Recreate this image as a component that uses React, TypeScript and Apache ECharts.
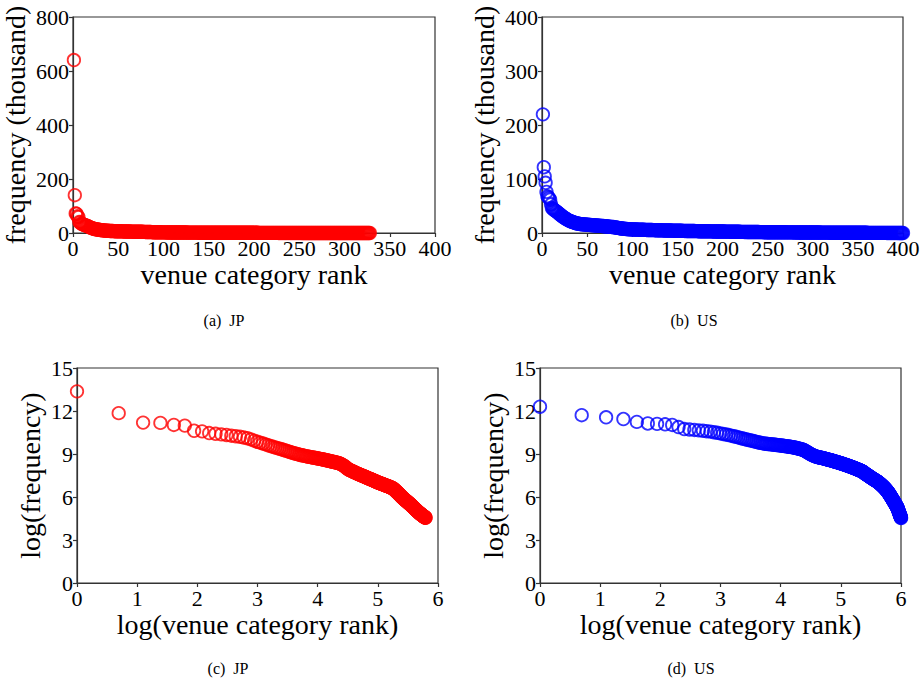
import React, { useEffect, useRef } from "react";
import * as echarts from "echarts";

// ln(frequency) of each venue category, ordered by rank (rank = index + 1)
const jpLogFreq: number[] = [
  13.37, 11.85, 11.19, 11.17, 11.03, 10.98, 10.62, 10.58, 10.46, 10.41,
  10.37, 10.33, 10.28, 10.24, 10.20, 10.15, 10.10, 10.02, 9.93, 9.85,
  9.79, 9.73, 9.67, 9.61, 9.55, 9.50, 9.45, 9.41, 9.37, 9.33,
  9.28, 9.24, 9.20, 9.16, 9.12, 9.08, 9.05, 9.02, 8.99, 8.96,
  8.93, 8.91, 8.89, 8.87, 8.85, 8.83, 8.81, 8.80, 8.78, 8.76,
  8.75, 8.73, 8.72, 8.70, 8.69, 8.67, 8.66, 8.64, 8.63, 8.61,
  8.60, 8.58, 8.57, 8.55, 8.54, 8.52, 8.51, 8.49, 8.48, 8.46,
  8.45, 8.44, 8.42, 8.41, 8.40, 8.38, 8.37, 8.35, 8.33, 8.31,
  8.28, 8.25, 8.22, 8.19, 8.16, 8.12, 8.08, 8.04, 8.00, 7.96,
  7.93, 7.90, 7.88, 7.86, 7.84, 7.82, 7.80, 7.78, 7.76, 7.74,
  7.72, 7.70, 7.68, 7.66, 7.65, 7.63, 7.61, 7.59, 7.58, 7.56,
  7.54, 7.53, 7.51, 7.50, 7.48, 7.47, 7.45, 7.44, 7.42, 7.41,
  7.39, 7.38, 7.36, 7.35, 7.33, 7.32, 7.30, 7.29, 7.28, 7.26,
  7.25, 7.24, 7.22, 7.21, 7.20, 7.18, 7.17, 7.16, 7.14, 7.13,
  7.12, 7.10, 7.09, 7.08, 7.06, 7.05, 7.04, 7.02, 7.01, 7.00,
  6.99, 6.98, 6.97, 6.96, 6.95, 6.94, 6.93, 6.92, 6.91, 6.90,
  6.89, 6.88, 6.87, 6.86, 6.85, 6.84, 6.83, 6.82, 6.81, 6.80,
  6.79, 6.78, 6.77, 6.76, 6.76, 6.75, 6.74, 6.73, 6.72, 6.71,
  6.70, 6.69, 6.68, 6.67, 6.66, 6.65, 6.64, 6.63, 6.62, 6.61,
  6.60, 6.58, 6.56, 6.54, 6.52, 6.50, 6.48, 6.46, 6.44, 6.42,
  6.40, 6.38, 6.36, 6.34, 6.32, 6.30, 6.28, 6.26, 6.24, 6.22,
  6.20, 6.18, 6.16, 6.14, 6.12, 6.10, 6.08, 6.06, 6.04, 6.02,
  6.00, 5.98, 5.96, 5.94, 5.93, 5.91, 5.89, 5.88, 5.86, 5.85,
  5.83, 5.82, 5.80, 5.79, 5.77, 5.76, 5.74, 5.73, 5.71, 5.70,
  5.68, 5.67, 5.65, 5.64, 5.62, 5.61, 5.59, 5.58, 5.56, 5.55,
  5.53, 5.52, 5.50, 5.49, 5.47, 5.46, 5.44, 5.43, 5.41, 5.40,
  5.38, 5.37, 5.35, 5.34, 5.32, 5.31, 5.29, 5.28, 5.26, 5.25,
  5.23, 5.22, 5.20, 5.19, 5.17, 5.16, 5.14, 5.13, 5.11, 5.10,
  5.08, 5.07, 5.06, 5.04, 5.03, 5.02, 5.00, 4.99, 4.98, 4.96,
  4.95, 4.94, 4.92, 4.91, 4.90, 4.89, 4.87, 4.86, 4.85, 4.84,
  4.83, 4.81, 4.80, 4.79, 4.78, 4.77, 4.76, 4.75, 4.74, 4.73,
  4.72, 4.71, 4.70, 4.69, 4.68, 4.67, 4.66, 4.65, 4.64, 4.63,
  4.62, 4.61, 4.60, 4.59, 4.58, 4.57, 4.56, 4.55,
];

const usLogFreq: number[] = [
  12.30, 11.71, 11.56, 11.44, 11.24, 11.13, 11.10, 11.07, 11.03, 10.88,
  10.74, 10.71, 10.68, 10.65, 10.62, 10.59, 10.56, 10.52, 10.48, 10.44,
  10.40, 10.36, 10.32, 10.28, 10.24, 10.20, 10.16, 10.12, 10.08, 10.04,
  10.01, 9.98, 9.95, 9.92, 9.89, 9.86, 9.83, 9.80, 9.78, 9.76,
  9.74, 9.72, 9.71, 9.70, 9.69, 9.68, 9.67, 9.66, 9.65, 9.64,
  9.63, 9.62, 9.61, 9.60, 9.59, 9.58, 9.57, 9.56, 9.55, 9.54,
  9.53, 9.52, 9.51, 9.50, 9.49, 9.48, 9.47, 9.46, 9.44, 9.43,
  9.42, 9.40, 9.39, 9.37, 9.36, 9.34, 9.33, 9.31, 9.30, 9.28,
  9.25, 9.22, 9.19, 9.16, 9.13, 9.10, 9.07, 9.04, 9.01, 8.98,
  8.96, 8.94, 8.92, 8.90, 8.88, 8.86, 8.85, 8.83, 8.81, 8.80,
  8.79, 8.78, 8.77, 8.76, 8.75, 8.74, 8.74, 8.73, 8.72, 8.71,
  8.70, 8.69, 8.68, 8.67, 8.66, 8.65, 8.64, 8.63, 8.62, 8.61,
  8.60, 8.59, 8.58, 8.58, 8.57, 8.56, 8.55, 8.54, 8.53, 8.52,
  8.51, 8.50, 8.49, 8.48, 8.47, 8.46, 8.45, 8.44, 8.44, 8.43,
  8.42, 8.41, 8.40, 8.39, 8.38, 8.37, 8.36, 8.35, 8.35, 8.34,
  8.33, 8.32, 8.31, 8.30, 8.29, 8.28, 8.27, 8.26, 8.26, 8.25,
  8.24, 8.23, 8.22, 8.21, 8.20, 8.19, 8.18, 8.18, 8.17, 8.16,
  8.15, 8.14, 8.13, 8.12, 8.11, 8.10, 8.10, 8.09, 8.08, 8.07,
  8.06, 8.05, 8.04, 8.03, 8.02, 8.02, 8.01, 8.00, 7.99, 7.98,
  7.97, 7.96, 7.95, 7.94, 7.94, 7.93, 7.92, 7.91, 7.90, 7.89,
  7.88, 7.87, 7.86, 7.86, 7.85, 7.84, 7.83, 7.82, 7.81, 7.80,
  7.79, 7.78, 7.77, 7.76, 7.75, 7.74, 7.72, 7.70, 7.68, 7.66,
  7.65, 7.64, 7.62, 7.61, 7.60, 7.59, 7.58, 7.56, 7.55, 7.54,
  7.53, 7.52, 7.50, 7.49, 7.48, 7.47, 7.46, 7.44, 7.43, 7.42,
  7.41, 7.40, 7.38, 7.37, 7.36, 7.35, 7.34, 7.32, 7.31, 7.30,
  7.29, 7.28, 7.27, 7.26, 7.25, 7.24, 7.23, 7.22, 7.21, 7.20,
  7.19, 7.18, 7.17, 7.16, 7.15, 7.14, 7.13, 7.12, 7.11, 7.10,
  7.09, 7.08, 7.07, 7.06, 7.05, 7.04, 7.02, 7.01, 7.00, 6.99,
  6.98, 6.96, 6.95, 6.94, 6.93, 6.91, 6.90, 6.89, 6.87, 6.86,
  6.85, 6.83, 6.82, 6.81, 6.79, 6.78, 6.77, 6.75, 6.74, 6.73,
  6.71, 6.70, 6.68, 6.67, 6.66, 6.64, 6.63, 6.61, 6.60, 6.58,
  6.57, 6.55, 6.54, 6.52, 6.51, 6.49, 6.48, 6.46, 6.44, 6.43,
  6.41, 6.39, 6.38, 6.36, 6.34, 6.32, 6.31, 6.29, 6.27, 6.25,
  6.23, 6.21, 6.19, 6.17, 6.15, 6.13, 6.11, 6.09, 6.07, 6.05,
  6.03, 6.01, 5.99, 5.97, 5.95, 5.93, 5.91, 5.89, 5.87, 5.85,
  5.83, 5.81, 5.79, 5.77, 5.75, 5.73, 5.71, 5.69, 5.67, 5.65,
  5.63, 5.61, 5.59, 5.57, 5.55, 5.53, 5.51, 5.49, 5.47, 5.45,
  5.43, 5.41, 5.39, 5.37, 5.35, 5.33, 5.31, 5.29, 5.27, 5.25,
  5.22, 5.19, 5.16, 5.13, 5.10, 5.07, 5.04, 5.01, 4.98, 4.95,
  4.92, 4.89, 4.86, 4.83, 4.80, 4.77, 4.74, 4.71, 4.68, 4.65,
  4.62, 4.59, 4.56, 4.53, 4.50,
];

const captions = ["(a)  JP", "(b)  US", "(c)  JP", "(d)  US"];
const linearXTitle = "venue category rank";
const linearYTitle = "frequency (thousand)";
const logXTitle = "log(venue category rank)";
const logYTitle = "log(frequency)";

const FONT = '"Liberation Serif", "Times New Roman", serif';
const RED = "#ff0000";
const BLUE = "#0000ff";

// linear-scale points: (rank, frequency in thousands)
const linearPoints = (lf: number[]) => lf.map((v, i) => [i + 1, Math.exp(v) / 1000]);
// log-log points: (ln rank, ln frequency)
const logPoints = (lf: number[]) => lf.map((v, i) => [Math.log(i + 1), v]);

export default function App() {
  const ref = useRef<HTMLDivElement>(null);

  useEffect(() => {
    if (!ref.current) return;
    const chart = echarts.init(ref.current, undefined, { renderer: "svg" });

    const grids = [
      { left: 73, top: 17, width: 362, height: 216 },
      { left: 542, top: 17, width: 361, height: 216 },
      { left: 77, top: 368, width: 361, height: 215 },
      { left: 540, top: 368, width: 361, height: 215 },
    ].map((g) => ({ ...g, show: true, borderColor: "#333", borderWidth: 1.2, backgroundColor: "transparent" }));

    const axisCommon = {
      axisLine: { show: true, onZero: false, lineStyle: { color: "#333", width: 1.2 } },
      axisTick: { show: true, inside: false, length: 4, lineStyle: { color: "#333", width: 1.2 } },
      splitLine: { show: false },
      axisLabel: { color: "#000", fontFamily: FONT, fontSize: 22, margin: 4 },
      nameLocation: "middle" as const,
      nameTextStyle: { color: "#000", fontFamily: FONT, fontSize: 28 },
    };

    const xAxes = [
      { gridIndex: 0, min: 0, max: 400, interval: 50, name: linearXTitle, nameGap: 27 },
      { gridIndex: 1, min: 0, max: 400, interval: 50, name: linearXTitle, nameGap: 27 },
      { gridIndex: 2, min: 0, max: 6, interval: 1, name: logXTitle, nameGap: 27 },
      { gridIndex: 3, min: 0, max: 6, interval: 1, name: logXTitle, nameGap: 27 },
    ].map((a) => ({ type: "value" as const, ...axisCommon, ...a }));

    const yAxes = [
      { gridIndex: 0, min: 0, max: 800, interval: 200, name: linearYTitle, nameGap: 44 },
      { gridIndex: 1, min: 0, max: 400, interval: 100, name: linearYTitle, nameGap: 44 },
      { gridIndex: 2, min: 0, max: 15, interval: 3, name: logYTitle, nameGap: 33 },
      { gridIndex: 3, min: 0, max: 15, interval: 3, name: logYTitle, nameGap: 33 },
    ].map((a) => ({ type: "value" as const, ...axisCommon, ...a }));

    const mk = (idx: number, data: number[][], color: string) => ({
      type: "scatter" as const,
      xAxisIndex: idx,
      yAxisIndex: idx,
      data,
      symbol: "circle",
      symbolSize: 12.5,
      clip: true,
      itemStyle: { color: "rgba(0,0,0,0)", borderColor: color, borderWidth: 1.8 },
      emphasis: { disabled: true },
    });

    const captionPos = [
      [224, 320],
      [694, 320],
      [228, 668],
      [691, 668],
    ];

    chart.setOption({
      animation: false,
      backgroundColor: "#fff",
      grid: grids,
      xAxis: xAxes,
      yAxis: yAxes,
      series: [
        mk(0, linearPoints(jpLogFreq), RED),
        mk(1, linearPoints(usLogFreq), BLUE),
        mk(2, logPoints(jpLogFreq), RED),
        mk(3, logPoints(usLogFreq), BLUE),
      ],
      graphic: captions.map((t, i) => ({
        type: "text",
        x: captionPos[i][0],
        y: captionPos[i][1],
        style: {
          text: t,
          fontFamily: FONT,
          fontSize: 16,
          fill: "#000",
          align: "center",
          verticalAlign: "middle",
        },
      })),
    });

    return () => chart.dispose();
  }, []);

  return (
    <div
      ref={ref}
      style={{ position: "absolute", left: 0, top: 0, width: 924, height: 683 }}
    />
  );
}
